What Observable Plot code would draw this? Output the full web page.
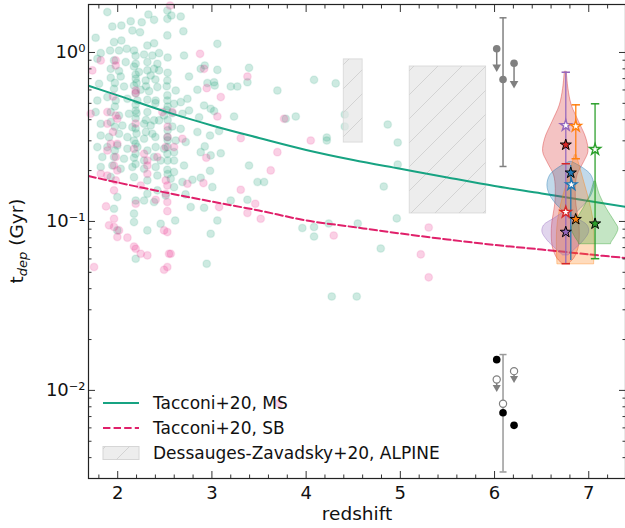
<!DOCTYPE html>
<html><head><meta charset="utf-8">
<script src="https://cdn.jsdelivr.net/npm/d3@7"></script>
<script src="https://cdn.jsdelivr.net/npm/@observablehq/plot@0.6"></script>
<style>
html,body{margin:0;padding:0;background:#fff;}
#chart svg{display:block;}
</style></head>
<body>
<svg width="0" height="0" style="position:absolute;left:0;top:0">
<defs>
<pattern id="hatch" patternUnits="userSpaceOnUse" width="24" height="24">
<path d="M-6,6 L6,-6 M0,24 L24,0 M18,30 L30,18" stroke="#d0d0d0" stroke-width="0.9" fill="none"/>
</pattern>
</defs>
</svg>
<div id="chart"></div>
<script>
// ---------- DATA ----------
// Main-sequence sample (teal): redshift and log10(t_dep / Gyr)
const msZ = [1.890,2.326,2.527,2.570,2.669,2.386,2.255,2.527,1.943,2.039,2.138,2.156,2.237,2.039,1.766,1.961,2.315,2.386,2.697,2.527,3.058,1.820,1.919,2.096,2.014,2.173,2.280,2.368,2.439,2.704,1.784,1.961,2.085,2.191,2.315,2.421,2.924,3.058,3.394,1.926,2.014,2.173,2.226,2.315,2.386,2.439,2.881,3.200,3.270,3.377,3.695,4.084,1.926,2.032,2.191,2.297,2.350,2.527,2.757,2.846,2.952,3.023,1.802,1.961,2.067,2.173,2.244,2.333,2.421,2.527,2.616,2.740,2.917,2.987,3.023,3.235,3.890,3.784,1.784,1.890,1.979,2.103,2.209,2.315,2.403,2.527,2.598,2.669,2.757,2.864,1.766,1.926,2.014,2.120,2.191,2.315,2.386,2.492,2.580,2.687,1.820,1.926,2.050,2.156,2.280,2.350,2.439,2.580,2.669,2.846,2.980,3.076,1.820,1.908,2.014,2.103,2.173,2.280,2.368,2.527,2.616,2.722,2.924,1.784,1.890,1.996,2.103,2.209,2.315,2.403,2.492,2.527,2.598,2.881,2.987,3.094,1.837,1.961,2.067,2.173,2.280,2.386,2.456,2.598,2.704,3.394,3.483,3.554,1.820,1.943,2.032,2.156,2.280,2.403,2.527,2.598,2.793,2.881,3.005,1.926,2.173,2.315,2.421,2.563,2.687,2.315,2.421,2.510,2.598,3.200,3.377,1.996,2.191,2.280,2.386,2.775,2.917,3.058,3.960,4.084,4.084,1.961,2.173,2.173,2.456,2.987,2.191,2.945,1.996,2.315,4.314,4.410,4.410,4.219,4.219,4.866,4.972,4.972,4.824,4.240,4.548,4.962,4.792,4.272,4.537,3.030,2.610,2.720,2.980,
  2.190,2.190,2.190,2.190,2.190,2.190,2.190,2.190,2.190,2.200,2.200,2.200,2.530,2.530,2.530,2.530,2.530,2.530,2.530,2.530,2.530,2.520,2.520,1.970,1.970,1.970,1.970,2.400,2.400,2.400,2.300,2.300,2.300];
const msLogT = [0.239,0.225,0.248,0.219,0.213,0.193,0.179,0.199,0.154,0.160,0.185,0.130,0.120,0.071,0.087,0.061,0.041,0.055,0.126,0.101,0.051,-0.004,0.012,0.022,0.012,0.012,-0.012,-0.018,-0.004,-0.018,-0.037,-0.047,-0.057,-0.067,-0.057,-0.067,-0.077,-0.103,-0.091,-0.097,-0.110,-0.083,-0.116,-0.106,-0.097,-0.106,-0.097,-0.201,-0.201,-0.176,-0.225,-0.162,-0.150,-0.142,-0.156,-0.166,-0.136,-0.166,-0.142,-0.221,-0.181,-0.176,-0.185,-0.215,-0.201,-0.195,-0.221,-0.229,-0.205,-0.254,-0.225,-0.274,-0.314,-0.333,-0.347,-0.379,-0.379,-0.392,-0.284,-0.264,-0.284,-0.274,-0.284,-0.280,-0.284,-0.284,-0.304,-0.294,-0.343,-0.383,-0.353,-0.353,-0.373,-0.363,-0.343,-0.353,-0.402,-0.373,-0.359,-0.363,-0.422,-0.412,-0.432,-0.442,-0.422,-0.432,-0.402,-0.438,-0.452,-0.471,-0.491,-0.465,-0.491,-0.501,-0.481,-0.501,-0.521,-0.511,-0.481,-0.501,-0.521,-0.530,-0.556,-0.560,-0.560,-0.550,-0.570,-0.560,-0.580,-0.560,-0.570,-0.600,-0.590,-0.590,-0.609,-0.596,-0.619,-0.619,-0.629,-0.623,-0.639,-0.619,-0.639,-0.639,-0.669,-0.669,-0.767,-0.767,-0.678,-0.669,-0.688,-0.678,-0.688,-0.678,-0.694,-0.708,-0.753,-0.741,-0.797,-0.738,-0.738,-0.757,-0.728,-0.747,-0.767,-0.836,-0.816,-0.846,-0.797,-0.876,-0.872,-0.856,-0.876,-0.876,-0.885,-0.915,-0.919,-0.994,-1.039,-1.033,-1.089,-0.925,-0.954,-1.004,-1.014,-1.073,-1.221,-1.250,-1.053,-1.053,-0.183,-0.367,-0.438,-0.503,-0.521,-0.426,-0.533,-0.663,-0.793,-1.012,-1.012,-0.982,-1.160,-1.444,-1.444,-0.195,-0.994,-0.840,-0.700,
  -0.020,-0.130,-0.240,-0.310,-0.390,-0.450,-0.540,-0.600,-0.660,-0.180,-0.360,-0.480,-0.030,-0.120,-0.320,-0.400,-0.460,-0.520,-0.560,-0.640,-0.720,-0.200,-0.340,-0.180,-0.320,-0.440,-0.580,-0.160,-0.300,-0.500,-0.400,-0.470,-0.200];

// Starburst sample (pink)
const sbZ = [2.556,2.874,2.917,2.945,3.094,3.377,3.766,4.049,3.695,3.306,3.624,3.306,3.076,3.377,3.518,1.820,1.979,1.979,1.731,1.713,1.890,1.979,2.191,2.191,2.474,2.580,3.058,1.890,1.996,1.926,1.996,1.890,1.979,2.173,2.280,2.315,2.421,2.510,2.598,2.687,1.961,1.996,1.820,1.890,1.979,2.315,2.315,2.510,2.527,1.961,2.244,2.510,2.740,2.403,2.527,2.191,2.527,1.961,1.961,2.014,1.908,1.996,2.103,2.173,2.191,2.244,2.315,2.492,2.527,2.545,2.563,2.527,2.492,1.749,4.293,5.301,5.217,5.301,3.709,2.940,2.910,3.460,1.876,2.530,2.530,2.190,1.950,1.950];
const sbLogT = [0.278,-0.008,-0.097,-0.211,-0.264,-0.142,-0.392,-0.521,-0.590,-0.507,-0.698,-0.812,-0.915,-0.950,-0.984,-0.047,-0.047,-0.077,-0.106,-0.363,-0.353,-0.373,-0.225,-0.241,-0.353,-0.353,-0.379,-0.422,-0.392,-0.540,-0.540,-0.580,-0.619,-0.570,-0.600,-0.639,-0.619,-0.560,-0.560,-0.511,-0.669,-0.698,-0.718,-0.728,-0.757,-0.669,-0.718,-0.757,-0.787,-0.816,-0.787,-0.836,-0.777,-0.872,-0.885,-0.895,-0.939,-0.984,-1.033,-1.053,-1.023,-1.092,-1.096,-1.148,-1.162,-1.191,-1.201,-1.053,-1.063,-1.191,-1.191,-1.270,-1.286,-1.270,-1.083,-1.036,-1.195,-1.331,-2.077,-0.623,-0.773,-0.895,-0.911,-0.500,-0.440,-0.420,-0.260,-0.470];

// Tacconi+20 scaling relations (Gyr)
const tacconiZ  = [1.69, 2, 2.5, 3, 3.5, 4, 4.5, 5, 5.5, 6, 6.5, 7, 7.39];
const tacconiMS = [0.635,0.557,0.448,0.370,0.312,0.265,0.231,0.205,0.182,0.162,0.1465,0.132,0.122];
const tacconiSB = [0.1855,0.170,0.1486,0.131,0.116,0.1014,0.0927,0.0849,0.0782,0.0726,0.0682,0.0638,0.0608];

// Dessauges-Zavadsky+20 ALPINE ranges
const alpineZlo = [4.40, 5.10];
const alpineZhi = [4.60, 5.91];
const alpineTlo = [0.293, 0.1115];
const alpineThi = [0.91, 0.826];

// z~6 literature points (gray, upper group)
const grayZ = [6.023, 6.090, 6.207];
const grayT = [1.052, 0.692, 0.864];
const grayArrowEnd = [0.82, null, 0.655];
const grayErrLo = [null, 0.2115, null];
const grayErrHi = [null, 1.604, null];

// z~6 literature points (lower group)
const blackZ = [6.023, 6.090, 6.207];
const blackT = [0.0152, 0.00738, 0.00621];
const openZ = [6.023, 6.207, 6.090];
const openT = [0.0116, 0.0130, 0.00834];
const openArrowEnd = [0.01042, 0.01178, null];
const openErrLo = [null, null, 0.00329];
const openErrHi = [null, null, 0.0163];

// This work: violins (log10 t levels and half widths in redshift units)
const violinNames   = ["red", "blue", "orange", "purple", "green"];
const violinColors  = ["#d62728", "#1f77b4", "#ff7f0e", "#9467bd", "#2ca02c"];
const violinCenters = [6.756, 6.809, 6.862, 6.756, 7.067];
const violinLogT = [
  [-0.1164,-0.215,-0.3136,-0.4122,-0.5108,-0.5897,-0.6489,-0.7278,-0.8067,-0.9053,-1.0039,-1.0828,-1.1617,-1.2209,-1.2505],
  [-0.6489,-0.6884,-0.7278,-0.787,-0.8462,-0.9053,-0.9448,-0.9842],
  [-0.6095,-0.6884,-0.7673,-0.8462,-0.925,-1.0039,-1.0828,-1.1617,-1.2505,-1.2540],
  [-0.9448,-0.9842,-1.0237,-1.0631,-1.1124,-1.1617,-1.2012],
  [-0.7673,-0.8462,-0.925,-1.0039,-1.0434,-1.0927,-1.1223,-1.1321,-1.1350]
];
const violinHalf = [
  [0.011,0.028,0.064,0.142,0.219,0.240,0.195,0.124,0.106,0.113,0.142,0.149,0.134,0.088,0.035],
  [0.018,0.142,0.219,0.248,0.219,0.142,0.071,0.018],
  [0.011,0.050,0.090,0.130,0.165,0.190,0.200,0.200,0.195,0.195],
  [0.018,0.124,0.230,0.248,0.195,0.106,0.028],
  [0.011,0.053,0.124,0.212,0.248,0.212,0.177,0.170,0.170]
];

// Error bars of this work
const barZ = [6.756, 6.809, 6.862, 7.067];
const barLo = [0.0562, 0.0588, 0.235, 0.0602];
const barHi = [0.764, 0.2145, 0.490, 0.497];
const barColor = ["#9467bd", "#1f77b4", "#ff7f0e", "#2ca02c"];
const capZ = [6.756, 6.756, 6.756, 6.862, 6.862, 7.067, 7.067];
const capT = [0.764, 0.2195, 0.0562, 0.490, 0.235, 0.497, 0.0602];
const capColor = ["#9467bd", "#d62728", "#d62728", "#ff7f0e", "#ff7f0e", "#2ca02c", "#2ca02c"];

// Stars
const starZ = [6.756, 6.862, 6.756, 7.067, 6.809, 6.815, 6.756, 6.862, 7.067, 6.756];
const starT = [0.37, 0.366, 0.284, 0.267, 0.194, 0.165, 0.1135, 0.103, 0.0969, 0.0865];
const starColor = ["#9467bd","#ff7f0e","#d62728","#2ca02c","#1f77b4","#1f77b4","#d62728","#ff7f0e","#2ca02c","#9467bd"];
const starFilled = [false,false,true,false,true,false,false,true,true,true];

// Axis ticks
const majorX = [2, 3, 4, 5, 6, 7];
const minorX = [1.8,2.2,2.4,2.6,2.8,3.2,3.4,3.6,3.8,4.2,4.4,4.6,4.8,5.2,5.4,5.6,5.8,6.2,6.4,6.6,6.8,7.2];
const majorY = [0.01, 0.1, 1];
const majorYLabels = ["10\u207B\u00B2", "10\u207B\u00B9", "10\u2070"];
const minorY = [0.004,0.005,0.006,0.007,0.008,0.009,0.02,0.03,0.04,0.05,0.06,0.07,0.08,0.09,0.2,0.3,0.4,0.5,0.6,0.7,0.8,0.9];

// ---------- BUILD ----------
const teal = msZ.map((z, i) => ({z, t: 10 ** msLogT[i]}));
const pink = sbZ.map((z, i) => ({z, t: 10 ** sbLogT[i]}));
const tacc = tacconiZ.map((z, i) => ({z, ms: tacconiMS[i], sb: tacconiSB[i]}));
const alpine = alpineZlo.map((z1, i) => ({z1, z2: alpineZhi[i], t1: alpineTlo[i], t2: alpineThi[i]}));
const gray = grayZ.map((z, i) => ({z, t: grayT[i], a: grayArrowEnd[i], lo: grayErrLo[i], hi: grayErrHi[i]}));
const blacks = blackZ.map((z, i) => ({z, t: blackT[i]}));
const opens = openZ.map((z, i) => ({z, t: openT[i], a: openArrowEnd[i], lo: openErrLo[i], hi: openErrHi[i]}));
const bars = barZ.map((z, i) => ({z, lo: barLo[i], hi: barHi[i], c: barColor[i]}));
const caps = capZ.map((z, i) => ({z, t: capT[i], c: capColor[i]}));
const stars = starZ.map((z, i) => ({z, t: starT[i], c: starColor[i], f: starFilled[i]}));

const capSymbol = {draw(ctx, size) { const r = Math.sqrt(size / Math.PI); ctx.moveTo(-r, 0); ctx.lineTo(r, 0); }};
const yFmt = d => majorYLabels[majorY.indexOf(d)];
const tickCol = "#333";

const violinMarks = violinNames.map((name, k) => {
  const rows = violinLogT[k].map((lt, i) => ({t: 10 ** lt, xl: violinCenters[k] - violinHalf[k][i], xr: violinCenters[k] + violinHalf[k][i]}));
  return Plot.areaX(rows, {y: "t", x1: "xl", x2: "xr", curve: "catmull-rom",
    fill: violinColors[k], fillOpacity: 0.28, stroke: violinColors[k], strokeOpacity: 0.4, strokeWidth: 1});
});

const limits = (arr) => arr.filter(d => d.a != null);
const errs = (arr) => arr.filter(d => d.lo != null);

const MAJ = 7, MIN = 3.5;
const svg = Plot.plot({
  width: 625, height: 528,
  marginLeft: 88, marginRight: 0, marginTop: 4, marginBottom: 50,
  style: {fontFamily: "DejaVu Sans", fontSize: "18px", background: "white", color: "#111"},
  x: {domain: [1.69, 7.39]},
  y: {type: "log", domain: [0.00301, 1.923]},
  marks: [
    Plot.dot(teal, {x: "z", y: "t", r: 3.8, fill: "#1b9e77", fillOpacity: 0.22, stroke: "#1b9e77", strokeOpacity: 0.1}),
    Plot.dot(pink, {x: "z", y: "t", r: 3.8, fill: "#e7298a", fillOpacity: 0.22, stroke: "#e7298a", strokeOpacity: 0.1}),
    Plot.rect(alpine, {x1: "z1", x2: "z2", y1: "t1", y2: "t2", fill: "#e6e6e6", fillOpacity: 0.7, stroke: "#d6d6d6", strokeOpacity: 0.8}),
    Plot.rect(alpine, {x1: "z1", x2: "z2", y1: "t1", y2: "t2", fill: "url(#hatch)"}),
    Plot.line(tacc, {x: "z", y: "ms", stroke: "#17a382", strokeWidth: 2, curve: "catmull-rom", clip: true}),
    Plot.line(tacc, {x: "z", y: "sb", stroke: "#e0206a", strokeWidth: 2, strokeDasharray: "7.4,3.2", curve: "catmull-rom", clip: true}),
    // gray upper group
    Plot.ruleX(errs(gray), {x: "z", y1: "lo", y2: "hi", stroke: "#808080", strokeWidth: 1.5}),
    Plot.dot(errs(gray), {x: "z", y: "lo", symbol: capSymbol, r: 3.5, stroke: "#808080", strokeWidth: 1.5}),
    Plot.dot(errs(gray), {x: "z", y: "hi", symbol: capSymbol, r: 3.5, stroke: "#808080", strokeWidth: 1.5}),
    Plot.ruleX(limits(gray), {x: "z", y1: "t", y2: "a", stroke: "#808080", strokeWidth: 1.5}),
    Plot.dot(limits(gray), {x: "z", y: "a", symbol: "triangle", rotate: 180, r: 3.2, fill: "#808080"}),
    Plot.dot(gray, {x: "z", y: "t", r: 3.8, fill: "#808080"}),
    // lower group
    Plot.ruleX(errs(opens), {x: "z", y1: "lo", y2: "hi", stroke: "#999", strokeWidth: 1.5}),
    Plot.dot(errs(opens), {x: "z", y: "lo", symbol: capSymbol, r: 3.5, stroke: "#999", strokeWidth: 1.5}),
    Plot.dot(errs(opens), {x: "z", y: "hi", symbol: capSymbol, r: 3.5, stroke: "#999", strokeWidth: 1.5}),
    Plot.ruleX(limits(opens), {x: "z", y1: "t", y2: "a", stroke: "#808080", strokeWidth: 1.5}),
    Plot.dot(limits(opens), {x: "z", y: "a", symbol: "triangle", rotate: 180, r: 3, fill: "#808080"}),
    Plot.dot(opens, {x: "z", y: "t", r: 3.6, fill: "white", stroke: "#808080", strokeWidth: 1.2}),
    Plot.dot(blacks, {x: "z", y: "t", r: 3.8, fill: "black"}),
    // violins & this work
    ...violinMarks,
    Plot.ruleX(bars, {x: "z", y1: "lo", y2: "hi", stroke: "c", strokeWidth: 1.5, strokeOpacity: 0.85}),
    Plot.dot(caps, {x: "z", y: "t", symbol: capSymbol, r: 4.2, stroke: "c", strokeWidth: 1.5}),
    Plot.dot(stars.filter(d => !d.f), {x: "z", y: "t", symbol: "star", r: 3.5, fill: "white", stroke: "c", strokeWidth: 1.4}),
    Plot.dot(stars.filter(d => d.f), {x: "z", y: "t", symbol: "star", r: 3.5, fill: "c", stroke: "black", strokeWidth: 1}),
    // axes (labels)
    Plot.axisX({ticks: majorX, anchor: "bottom", tickSize: 0, tickPadding: 8, fontSize: 18, tickFormat: d => String(d), label: null, color: "#111"}),
    Plot.axisY({ticks: majorY, anchor: "left", tickSize: 0, tickPadding: 3, fontSize: 18, tickFormat: yFmt, label: null, color: "#111"}),
    // inward ticks
    Plot.axisX({ticks: majorX, anchor: "bottom", tickSize: MAJ, dy: -MAJ, fill: "none", stroke: tickCol, label: null}),
    Plot.axisX({ticks: minorX, anchor: "bottom", tickSize: MIN, dy: -MIN, fill: "none", stroke: tickCol, label: null}),
    Plot.axisX({ticks: majorX, anchor: "top", tickSize: MAJ, dy: MAJ, fill: "none", stroke: tickCol, label: null}),
    Plot.axisX({ticks: minorX, anchor: "top", tickSize: MIN, dy: MIN, fill: "none", stroke: tickCol, label: null}),
    Plot.axisY({ticks: majorY, anchor: "left", tickSize: MAJ, dx: MAJ, fill: "none", stroke: tickCol, label: null}),
    Plot.axisY({ticks: minorY, anchor: "left", tickSize: MIN, dx: MIN, fill: "none", stroke: tickCol, label: null}),
    Plot.axisY({ticks: majorY, anchor: "right", tickSize: MAJ, dx: -MAJ, fill: "none", stroke: tickCol, label: null}),
    Plot.axisY({ticks: minorY, anchor: "right", tickSize: MIN, dx: -MIN, fill: "none", stroke: tickCol, label: null}),
    Plot.frame({stroke: "#222", strokeWidth: 1.2})
  ]
});

// ---------- TEXT & LEGEND ----------
const ns = "http://www.w3.org/2000/svg";
function add(parent, tag, attrs, text) {
  const e = document.createElementNS(ns, tag);
  for (const k in attrs) e.setAttribute(k, attrs[k]);
  if (text != null) e.textContent = text;
  parent.appendChild(e);
  return e;
}
const yl = add(svg, "text", {transform: "translate(23,241) rotate(-90)", "text-anchor": "middle", "font-size": 18.5, "font-family": "DejaVu Sans", fill: "#111"});
add(yl, "tspan", {}, "t");
add(yl, "tspan", {"font-size": 13, "font-style": "italic", dy: 4}, "dep");
add(yl, "tspan", {dy: -4}, "\u00A0(Gyr)");
add(svg, "text", {x: 357, y: 520, "text-anchor": "middle", "font-size": 18.5, "font-family": "DejaVu Sans", fill: "#111"}, "redshift");

const lg = add(svg, "g", {"font-family": "DejaVu Sans", "font-size": 17, fill: "#111", "text-anchor": "start"});
add(lg, "line", {x1: 103, x2: 139, y1: 403, y2: 403, stroke: "#17a382", "stroke-width": 2});
add(lg, "line", {x1: 103, x2: 139, y1: 428, y2: 428, stroke: "#e0206a", "stroke-width": 2, "stroke-dasharray": "7.4,3.2"});
add(lg, "rect", {x: 103, y: 446.5, width: 36, height: 13, fill: "#e6e6e6", "fill-opacity": 0.7, stroke: "#d6d6d6"});
add(lg, "rect", {x: 103, y: 446.5, width: 36, height: 13, fill: "url(#hatch)"});
const legendLabels = ["Tacconi+20, MS", "Tacconi+20, SB", "Dessauges-Zavadsky+20, ALPINE"];
[403, 428, 453].forEach((y, i) => add(lg, "text", {x: 153, y: y, dy: "0.35em", "text-anchor": "start"}, legendLabels[i]));

document.getElementById("chart").appendChild(svg);
</script>
</body></html>
